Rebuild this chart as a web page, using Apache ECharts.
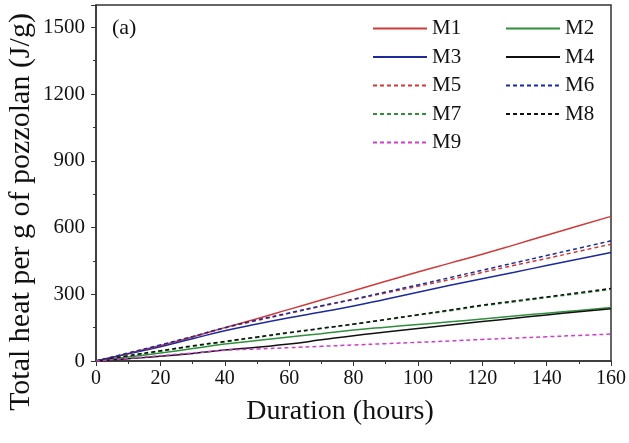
<html>
    <head>
        <meta charset="UTF-8">
    </head>
    <body style="margin:0">
        <div id="container" style="width: 629px;height: 443px"></div>
        <script type="text/javascript" src="https://cdn.jsdelivr.net/npm/echarts@6/dist/echarts.min.js"></script>
        <script type="text/javascript">
        // duration (hours)
        var hours = [0, 10, 20, 30, 40, 50, 60, 70, 80, 90, 100, 110, 120, 130, 140, 150, 160];
        // total heat per g of pozzolan (J/g)
        var m1 = [0, 34, 70, 108, 150, 190, 232, 274, 316, 358, 400, 440, 480, 522, 565, 608, 650];
        var m2 = [0, 18, 36, 56, 76, 92, 108, 123, 139, 152, 164, 176, 189, 202, 215, 227, 240];
        var m3 = [0, 32, 64, 100, 136, 166, 194, 220, 247, 278, 309, 340, 370, 399, 429, 458, 488];
        var m4 = [0, 10, 21, 34, 49, 62, 76, 95, 114, 130, 146, 162, 177, 192, 207, 221, 235];
        var m5 = [0, 34, 70, 108, 148, 182, 214, 246, 276, 306, 336, 366, 398, 430, 461, 493, 525];
        var m6 = [0, 36, 72, 110, 150, 184, 216, 248, 278, 310, 342, 375, 408, 441, 474, 507, 540];
        var m7 = [0, 22, 44, 66, 86, 106, 126, 146, 165, 185, 206, 226, 248, 266, 285, 303, 322];
        var m8 = [0, 24, 46, 68, 88, 108, 128, 147, 166, 187, 208, 229, 251, 270, 288, 307, 326];
        var m9 = [0, 12, 24, 36, 48, 54, 60, 66, 72, 78, 84, 90, 97, 103, 109, 115, 121];

        var names = ['M1', 'M2', 'M3', 'M4', 'M5', 'M6', 'M7', 'M8', 'M9'];
        var values = [m1, m2, m3, m4, m5, m6, m7, m8, m9];
        var colors = ['#d03a3a', '#2f8f3a', '#1c2a9c', '#111111', '#d03a3a', '#1c2a9c', '#2f8f3a', '#111111', '#cc3fcc'];
        var dashed = [false, false, false, false, true, true, true, true, true];

        var font = 'Liberation Serif';

        function pairs(ys) {
            var out = [];
            for (var i = 0; i < hours.length; i++) {
                out.push([hours[i], ys[i]]);
            }
            return out;
        }

        var series = [];
        for (var i = 0; i < names.length; i++) {
            series.push({
                name: names[i],
                type: 'line',
                symbol: 'none',
                smooth: true,
                color: colors[i],
                lineStyle: {color: colors[i], width: 1.5, type: dashed[i] ? [4, 3] : 'solid'},
                data: pairs(values[i])
            });
        }

        function legend(items, left) {
            return {
                orient: 'vertical',
                left: left,
                top: 13,
                itemWidth: 54,
                itemHeight: 14,
                itemGap: 7.5,
                itemStyle: {opacity: 0},
                data: items,
                textStyle: {fontFamily: font, fontSize: 21, color: '#111'}
            };
        }

        var myChart = echarts.init(document.getElementById('container'));
        var option = {
            animation: false,
            backgroundColor: '#fff',
            grid: {
                left: 96, right: 16, top: 5, bottom: 82,
                show: true, borderColor: '#333', borderWidth: 1.5
            },
            legend: [
                legend(['M1', 'M3', 'M5', 'M7', 'M9'], 367),
                legend(['M2', 'M4', 'M6', 'M8'], 500)
            ],
            xAxis: {
                type: 'value',
                min: 0, max: 160, interval: 20,
                splitLine: {show: false},
                axisLine: {lineStyle: {color: '#333', width: 1.5}},
                axisTick: {length: 5, lineStyle: {color: '#333'}},
                minorTick: {show: true, splitNumber: 2, length: 3, lineStyle: {color: '#333'}},
                axisLabel: {fontFamily: font, fontSize: 20, color: '#111', margin: 8}
            },
            yAxis: {
                type: 'value',
                min: 0, max: 1600, interval: 300,
                splitLine: {show: false},
                axisLine: {show: true, lineStyle: {color: '#333', width: 1.5}},
                axisTick: {show: true, length: 5, lineStyle: {color: '#333'}},
                minorTick: {show: true, splitNumber: 2, length: 3, lineStyle: {color: '#333'}},
                axisLabel: {
                    fontFamily: font, fontSize: 21, color: '#111', margin: 11,
                    formatter: function (v) { return v > 1500 ? '' : v; }
                }
            },
            graphic: [
                {type: 'text', left: 112, top: 17,
                 style: {text: '(a)', font: '22px "Liberation Serif"', fill: '#111'}},
                {type: 'text', x: 340, y: 412,
                 style: {text: 'Duration (hours)', font: '28px "Liberation Serif"', fill: '#111',
                         align: 'center', verticalAlign: 'middle'}},
                {type: 'text', x: 21, y: 212, rotation: Math.PI / 2,
                 style: {text: 'Total heat per g of pozzolan (J/g)', font: '30px "Liberation Serif"', fill: '#111',
                         align: 'center', verticalAlign: 'middle'}}
            ],
            series: series
        };
        myChart.setOption(option);
        </script>
    </body>
</html>
